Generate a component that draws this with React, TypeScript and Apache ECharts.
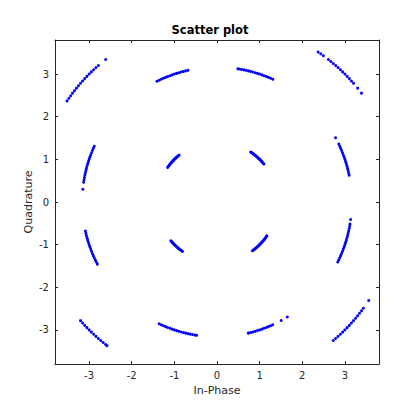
import React, { useEffect, useRef } from "react";
import * as echarts from "echarts";

const titleText = "Scatter plot";
const xName = "In-Phase";
const yName = "Quadrature";
const tickValues = [-3, -2, -1, 0, 1, 2, 3];

// Received symbols around each 16-QAM point (In-Phase, Quadrature)
const c_m3_p3 = [[-2.612,3.343],[-2.783,3.202],[-2.839,3.153],[-2.894,3.103],[-2.947,3.052],[-3,3],[-3.052,2.947],[-3.103,2.894],[-3.153,2.839],[-3.202,2.783],[-3.25,2.727],[-3.297,2.67],[-3.343,2.612],[-3.389,2.553],[-3.432,2.494],[-3.475,2.434],[-3.517,2.372]];
const c_m1_p3 = [[-0.681,3.088],[-0.735,3.076],[-0.788,3.063],[-0.842,3.048],[-0.895,3.033],[-0.947,3.017],[-1,3],[-1.052,2.982],[-1.104,2.963],[-1.156,2.944],[-1.207,2.923],[-1.258,2.901],[-1.308,2.879],[-1.358,2.856],[-1.408,2.832]];
const c_p1_p3 = [[1.308,2.879],[1.258,2.901],[1.207,2.923],[1.156,2.944],[1.104,2.963],[1.052,2.982],[1,3],[0.947,3.017],[0.895,3.033],[0.842,3.048],[0.788,3.063],[0.735,3.076],[0.681,3.088],[0.627,3.099],[0.573,3.11],[0.519,3.12],[0.49,3.124]];
const c_p3_p3 = [[3.389,2.553],[3.297,2.67],[3.202,2.783],[3.153,2.839],[3.103,2.894],[3.052,2.947],[3,3],[2.947,3.052],[2.894,3.103],[2.839,3.153],[2.783,3.202],[2.727,3.25],[2.67,3.297],[2.612,3.343],[2.494,3.432],[2.434,3.475],[2.372,3.517]];
const c_m3_p1 = [[-2.879,1.308],[-2.901,1.258],[-2.923,1.207],[-2.944,1.156],[-2.963,1.104],[-2.982,1.052],[-3,1],[-3.017,0.947],[-3.033,0.895],[-3.048,0.842],[-3.063,0.788],[-3.076,0.735],[-3.088,0.681],[-3.099,0.627],[-3.11,0.573],[-3.12,0.519],[-3.128,0.464],[-3.148,0.299]];
const c_m1_p1 = [[-0.89,1.099],[-0.909,1.083],[-0.928,1.067],[-0.946,1.051],[-0.965,1.034],[-0.982,1.017],[-1,1],[-1.017,0.982],[-1.034,0.965],[-1.051,0.946],[-1.067,0.928],[-1.083,0.909],[-1.099,0.89],[-1.114,0.871],[-1.13,0.851],[-1.144,0.831],[-1.158,0.811]];
const c_p1_p1 = [[1.099,0.89],[1.083,0.909],[1.067,0.928],[1.051,0.946],[1.034,0.965],[1.017,0.982],[1,1],[0.982,1.017],[0.965,1.034],[0.946,1.051],[0.928,1.067],[0.909,1.083],[0.89,1.099],[0.871,1.114],[0.851,1.13],[0.831,1.144],[0.811,1.158],[0.791,1.172]];
const c_p3_p1 = [[3.099,0.627],[3.088,0.681],[3.076,0.735],[3.063,0.788],[3.048,0.842],[3.033,0.895],[3.017,0.947],[3,1],[2.982,1.052],[2.963,1.104],[2.944,1.156],[2.923,1.207],[2.901,1.258],[2.879,1.308],[2.856,1.358],[2.781,1.506]];
const c_m3_m1 = [[-3.088,-0.681],[-3.076,-0.735],[-3.063,-0.788],[-3.048,-0.842],[-3.033,-0.895],[-3.017,-0.947],[-3,-1],[-2.982,-1.052],[-2.963,-1.104],[-2.944,-1.156],[-2.923,-1.207],[-2.901,-1.258],[-2.879,-1.308],[-2.856,-1.358],[-2.832,-1.408],[-2.807,-1.457]];
const c_m1_m1 = [[-1.083,-0.909],[-1.067,-0.928],[-1.051,-0.946],[-1.034,-0.965],[-1.017,-0.982],[-1,-1],[-0.982,-1.017],[-0.965,-1.034],[-0.946,-1.051],[-0.928,-1.067],[-0.909,-1.083],[-0.89,-1.099],[-0.871,-1.114],[-0.851,-1.13],[-0.831,-1.144],[-0.811,-1.158]];
const c_p1_m1 = [[0.831,-1.144],[0.851,-1.13],[0.871,-1.114],[0.89,-1.099],[0.909,-1.083],[0.928,-1.067],[0.946,-1.051],[0.965,-1.034],[0.982,-1.017],[1,-1],[1.017,-0.982],[1.034,-0.965],[1.051,-0.946],[1.067,-0.928],[1.083,-0.909],[1.099,-0.89],[1.114,-0.871],[1.13,-0.851],[1.144,-0.831],[1.158,-0.811],[1.172,-0.791]];
const c_p3_m1 = [[2.832,-1.408],[2.856,-1.358],[2.879,-1.308],[2.901,-1.258],[2.923,-1.207],[2.944,-1.156],[2.963,-1.104],[2.982,-1.052],[3,-1],[3.017,-0.947],[3.033,-0.895],[3.048,-0.842],[3.063,-0.788],[3.076,-0.735],[3.088,-0.681],[3.099,-0.627],[3.11,-0.573],[3.12,-0.519],[3.135,-0.409]];
const c_m3_m3 = [[-3.202,-2.783],[-3.153,-2.839],[-3.103,-2.894],[-3.052,-2.947],[-3,-3],[-2.947,-3.052],[-2.894,-3.103],[-2.839,-3.153],[-2.783,-3.202],[-2.727,-3.25],[-2.67,-3.297],[-2.612,-3.343],[-2.58,-3.37]];
const c_m1_m3 = [[-1.358,-2.856],[-1.308,-2.879],[-1.258,-2.901],[-1.207,-2.923],[-1.156,-2.944],[-1.104,-2.963],[-1.052,-2.982],[-1,-3],[-0.947,-3.017],[-0.895,-3.033],[-0.842,-3.048],[-0.788,-3.063],[-0.735,-3.076],[-0.681,-3.088],[-0.627,-3.099],[-0.573,-3.11],[-0.519,-3.12],[-0.48,-3.128]];
const c_p1_m3 = [[0.735,-3.076],[0.788,-3.063],[0.842,-3.048],[0.895,-3.033],[0.947,-3.017],[1,-3],[1.052,-2.982],[1.104,-2.963],[1.156,-2.944],[1.207,-2.923],[1.258,-2.901],[1.308,-2.879],[1.506,-2.781],[1.649,-2.698]];
const c_p3_m3 = [[2.727,-3.25],[2.783,-3.202],[2.839,-3.153],[2.894,-3.103],[2.947,-3.052],[3,-3],[3.052,-2.947],[3.103,-2.894],[3.153,-2.839],[3.202,-2.783],[3.25,-2.727],[3.297,-2.67],[3.343,-2.612],[3.389,-2.553],[3.432,-2.494],[3.558,-2.311]];

const allPoints = [
  ...c_m3_p3, ...c_m1_p3, ...c_p1_p3, ...c_p3_p3,
  ...c_m3_p1, ...c_m1_p1, ...c_p1_p1, ...c_p3_p1,
  ...c_m3_m1, ...c_m1_m1, ...c_p1_m1, ...c_p3_m1,
  ...c_m3_m3, ...c_m1_m3, ...c_p1_m3, ...c_p3_m3,
];

const AX = "#262626";
const FONT = "DejaVu Sans";

export default function App() {
  const ref = useRef<HTMLDivElement>(null);
  useEffect(() => {
    if (!ref.current) return;
    const chart = echarts.init(ref.current, undefined, { renderer: "svg" });
    const baseAxis = {
      type: "value",
      min: -3.8,
      max: 3.8,
      splitLine: { show: false },
      axisLine: { show: true, onZero: false, lineStyle: { color: AX, width: 1 } },
    };
    chart.setOption({
      animation: false,
      backgroundColor: "#ffffff",
      title: {
        text: titleText,
        left: "center",
        top: 19,
        textStyle: { fontFamily: FONT, fontSize: 11.5, fontWeight: "bold", color: "#000" },
      },
      grid: { left: 55, right: 41, top: 40, bottom: 56, containLabel: false },
      xAxis: [
        {
          ...baseAxis,
          position: "bottom",
          name: xName,
          nameLocation: "middle",
          nameGap: 20,
          nameTextStyle: { fontFamily: FONT, fontSize: 11, color: AX },
          axisTick: { show: true, inside: true, length: 3, customValues: tickValues, lineStyle: { color: AX } },
          axisLabel: { show: true, customValues: tickValues, margin: 6, fontFamily: FONT, fontSize: 10, color: AX },
        },
        {
          ...baseAxis,
          position: "top",
          axisTick: { show: true, inside: true, length: 3, customValues: tickValues, lineStyle: { color: AX } },
          axisLabel: { show: false },
        },
      ],
      yAxis: [
        {
          ...baseAxis,
          position: "left",
          name: yName,
          nameLocation: "middle",
          nameGap: 21,
          nameMoveOverlap: false,
          nameTextStyle: { fontFamily: FONT, fontSize: 11, color: AX },
          axisTick: { show: true, inside: true, length: 3, customValues: tickValues, lineStyle: { color: AX } },
          axisLabel: { show: true, customValues: tickValues, margin: 6, fontFamily: FONT, fontSize: 10, color: AX },
        },
        {
          ...baseAxis,
          position: "right",
          axisTick: { show: true, inside: true, length: 3, customValues: tickValues, lineStyle: { color: AX } },
          axisLabel: { show: false },
        },
      ],
      series: [
        {
          type: "scatter",
          xAxisIndex: 0,
          yAxisIndex: 0,
          data: allPoints,
          symbol: "circle",
          symbolSize: 3,
          itemStyle: { color: "#0000ff", opacity: 1 },
        },
      ],
    });
    return () => chart.dispose();
  }, []);
  return <div ref={ref} style={{ width: 420, height: 420, position: "absolute", left: 0, top: 0 }} />;
}
